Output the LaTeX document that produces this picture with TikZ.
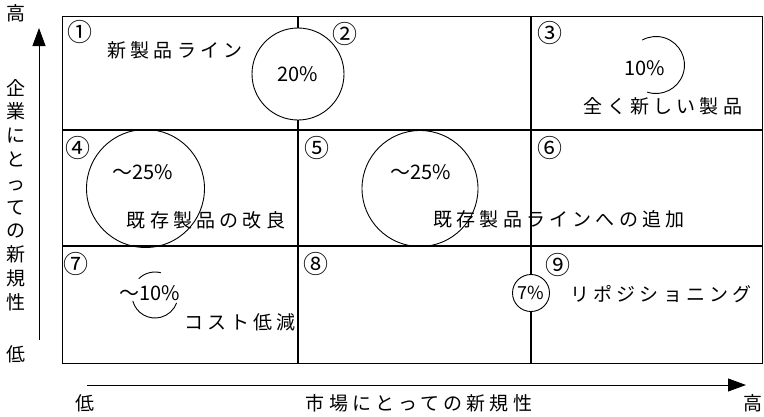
\documentclass[tikz,border=0pt]{standalone}
\usepackage{fontspec}
\setmainfont{Noto Sans CJK JP}
\newfontfamily\jp{Noto Sans CJK JP}
\newfontfamily\jpls[LetterSpace=22]{Noto Sans CJK JP}
\usetikzlibrary{arrows.meta}
\begin{document}
\begin{tikzpicture}[x=1pt,y=1pt,
  lbl/.style={font=\jpls\fontsize{19}{22}\selectfont, inner sep=0pt},
  num/.style={font=\jp\fontsize{25}{27}\selectfont, inner sep=0pt},
  pct/.style={font=\jp\fontsize{20}{22}\selectfont, inner sep=0pt},
  gridline/.style={line width=1.2pt},
  bub/.style={draw, circle, line width=0.9pt, inner sep=0pt},
  axisarrow/.style={line width=0.9pt, -{Triangle[length=18pt,width=13pt]}},
]
\useasboundingbox (0,0) rectangle (764,-416);
% grid
\draw[line width=1pt] (62,-16) rectangle (762.5,-363);
\draw[gridline] (62,-130) -- (762.5,-130);
\draw[gridline] (62,-246) -- (762.5,-246);
\draw[gridline] (298,-16) -- (298,-363);
\draw[gridline] (531,-16) -- (531,-363);
% bubbles
\node[bub, fill=white, minimum size=92pt, pct] (c2) at (298,-74) {20\%};
\node[bub, minimum size=118pt] (c4) at (145.5,-188.5) {};
\node[bub, minimum size=116pt] (c5) at (420,-188.5) {};
\node[bub, fill=white, minimum size=37pt, font=\jp\fontsize{18}{20}\selectfont] (c9) at (531,-293) {7\%};
\coordinate (c3) at (656,-65);
\draw[line width=0.9pt] ([shift={(-108:28.5)}]c3) arc[start angle=-108,end angle=119,radius=28.5pt];
\coordinate (c7) at (155,-295);
\draw[line width=0.9pt] ([shift={(75:23)}]c7) arc[start angle=75,end angle=135,radius=23pt];
\draw[line width=0.9pt] ([shift={(195:23)}]c7) arc[start angle=195,end angle=340,radius=23pt];
% percentages
\node[pct] (p3) at (645,-68) {10\%};
\node[pct] (p4) at (143,-172) {～25\%};
\node[pct] (p5) at (421,-172) {～25\%};
\node[pct] (p7) at (150,-293) {～10\%};
% cell numbers
\node[num] (n1) at (80,-32) {①};
\node[num] (n2) at (345,-34) {②};
\node[num] (n3) at (550,-33) {③};
\node[num] (n4) at (78,-148) {④};
\node[num] (n5) at (317,-148) {⑤};
\node[num] (n6) at (550,-148) {⑥};
\node[num] (n7) at (76,-264) {⑦};
\node[num] (n8) at (316,-264) {⑧};
\node[num] (n9) at (558,-265) {⑨};
% labels
\node[lbl] (l1) at (175,-50) {新製品ライン};
\node[lbl] (l3) at (663,-106) {全く新しい製品};
\node[lbl] (l4) at (206,-220) {既存製品の改良};
\node[lbl] (l6) at (559,-219) {既存製品ラインへの追加};
\node[lbl] (l7) at (240,-322) {コスト低減};
\node[lbl] (l9) at (661,-294) {リポジショニング};
% axes
\coordinate (ya) at (39,-340);
\coordinate (yb) at (39,-28);
\draw[axisarrow] (ya) -- (yb);
\coordinate (xa) at (87,-385);
\coordinate (xb) at (746,-385);
\draw[axisarrow] (xa) -- (xb);
\node[font=\jp\fontsize{19}{22}\selectfont, inner sep=0pt] (yhi) at (16,-13) {高};
\node[font=\jp\fontsize{19}{22}\selectfont, inner sep=0pt] (ylo) at (16,-354) {低};
\node[font=\jp\fontsize{19}{23.8}\selectfont, align=center, inner sep=0pt] (ylab) at (16,-195) {企\\業\\に\\と\\っ\\て\\の\\新\\規\\性};
\node[font=\jp\fontsize{19}{22}\selectfont, inner sep=0pt] (xlo) at (85,-403) {低};
\node[lbl] (xlab) at (419,-403) {市場にとっての新規性};
\node[font=\jp\fontsize{19}{22}\selectfont, inner sep=0pt] (xhi) at (753,-403) {高};
\end{tikzpicture}
\end{document}
